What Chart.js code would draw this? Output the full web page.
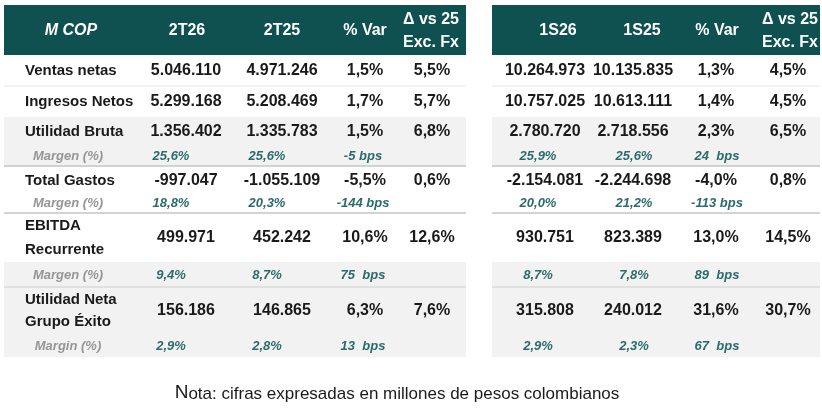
<!DOCTYPE html>
<html>
<head>
<meta charset="utf-8">
<script src="https://cdn.jsdelivr.net/npm/chart.js@4.4.1/dist/chart.umd.min.js"></script>
<style>
  html, body { margin: 0; padding: 0; background: #ffffff; }
  #wrap { width: 822px; height: 415px; }
</style>
</head>
<body>
<div id="wrap"><canvas id="table" width="822" height="415"></canvas></div>
<script>
// table content
const rowLabels = [
  'Ventas netas', 'Ingresos Netos', 'Utilidad Bruta', 'Margen (%)', 'Total Gastos',
  'Margen (%)', ['EBITDA', 'Recurrente'], 'Margen (%)', ['Utilidad Neta', 'Grupo Éxito'], 'Margin (%)'
];
const cornerLabel = 'M COP';
const quarterHeaders = ['2T26', '2T25', '% Var', ['Δ vs 25', 'Exc. Fx']];
const semesterHeaders = ['1S26', '1S25', '% Var', ['Δ vs 25', 'Exc. Fx']];

const q2T26 = ['5.046.110', '5.299.168', '1.356.402', '25,6%', '-997.047', '18,8%', '499.971', '9,4%', '156.186', '2,9%'];
const q2T25 = ['4.971.246', '5.208.469', '1.335.783', '25,6%', '-1.055.109', '20,3%', '452.242', '8,7%', '146.865', '2,8%'];
const qVar = ['1,5%', '1,7%', '1,5%', '-5 bps', '-5,5%', '-144 bps', '10,6%', '75  bps', '6,3%', '13  bps'];
const qExFx = ['5,5%', '5,7%', '6,8%', '', '0,6%', '', '12,6%', '', '7,6%', ''];

const s1S26 = ['10.264.973', '10.757.025', '2.780.720', '25,9%', '-2.154.081', '20,0%', '930.751', '8,7%', '315.808', '2,9%'];
const s1S25 = ['10.135.835', '10.613.111', '2.718.556', '25,6%', '-2.244.698', '21,2%', '823.389', '7,8%', '240.012', '2,3%'];
const sVar = ['1,3%', '1,4%', '2,3%', '24  bps', '-4,0%', '-113 bps', '13,0%', '89  bps', '31,6%', '67  bps'];
const sExFx = ['4,5%', '4,5%', '6,5%', '', '0,8%', '', '14,5%', '', '30,7%', ''];

const noteText = 'Nota: cifras expresadas en millones de pesos colombianos';

// layout (scale units, 1 unit = 1 px)
const panels = [
  { x0: 4, x1: 466, headX: [187, 282, 365, 431], valX: [186, 282, 365, 432], marX: [171, 267, 363],
    headers: quarterHeaders, cols: [q2T26, q2T25, qVar, qExFx], labels: true },
  { x0: 492, x1: 820, headX: [558, 642, 717, 790], valX: [545, 633, 716, 788], marX: [538, 634, 717],
    headers: semesterHeaders, cols: [s1S26, s1S25, sVar, sExFx], labels: false }
];
const headTop = 5;
const headBottom = 55;
const rows = [
  { top: 55, bottom: 86, y: 71, kind: 'main' },
  { top: 86, bottom: 117, y: 102, kind: 'main' },
  { top: 117, bottom: 145, y: 132, kind: 'main', shade: true },
  { top: 145, bottom: 166, y: 156, kind: 'margin', shade: true },
  { top: 166, bottom: 193, y: 181, kind: 'main' },
  { top: 193, bottom: 213, y: 203, kind: 'margin' },
  { top: 213, bottom: 262, y: 238, kind: 'main', gap: 12 },
  { top: 262, bottom: 287, y: 275, kind: 'margin', shade: true },
  { top: 287, bottom: 334, y: 311, kind: 'main', gap: 11, shade: true },
  { top: 334, bottom: 357, y: 346, kind: 'margin', shade: true }
];
const rules = [
  { y: 86, color: '#eeeeee' },
  { y: 166, color: '#c4c4c4' },
  { y: 213, color: '#c4c4c4' },
  { y: 287, color: '#dadada' }
];

const HEAD_BG = '#0f5150';
const SHADE_BG = '#f2f2f2';
const TEXT = '#1a1a1a';
const MARGIN_LABEL = '#959595';
const MARGIN_VALUE = '#2c6b6b';
const FAMILY = "'Liberation Sans', Arial, sans-serif";

const tablePlugin = {
  id: 'tableCells',
  afterDraw(chart) {
    const { ctx } = chart;
    const xs = chart.scales.x;
    const ys = chart.scales.y;
    const px = (v) => xs.getPixelForValue(v);
    const py = (v) => ys.getPixelForValue(v);

    ctx.save();
    ctx.textBaseline = 'middle';

    panels.forEach((p) => {
      const left = px(p.x0);
      const w = px(p.x1) - left;

      // header band
      ctx.fillStyle = HEAD_BG;
      ctx.fillRect(left, py(headTop), w, py(headBottom) - py(headTop));

      // shaded rows
      rows.forEach((r) => {
        if (!r.shade) return;
        ctx.fillStyle = SHADE_BG;
        ctx.fillRect(left, py(r.top), w, py(r.bottom) - py(r.top));
      });

      // row rules
      rules.forEach((rl) => {
        ctx.strokeStyle = rl.color;
        ctx.lineWidth = 1.5;
        ctx.beginPath();
        ctx.moveTo(left, py(rl.y));
        ctx.lineTo(left + w, py(rl.y));
        ctx.stroke();
      });

      // header text
      ctx.fillStyle = '#ffffff';
      ctx.textAlign = 'center';
      ctx.font = 'bold 16px ' + FAMILY;
      p.headers.forEach((h, i) => {
        if (Array.isArray(h)) {
          ctx.fillText(h[0], px(p.headX[i]), py(20));
          ctx.fillText(h[1], px(p.headX[i]), py(43));
        } else {
          ctx.fillText(h, px(p.headX[i]), py(31));
        }
      });
      if (p.labels) {
        ctx.font = 'italic bold 16px ' + FAMILY;
        ctx.fillText(cornerLabel, px(71), py(31));
      }

      // body
      rows.forEach((r, ri) => {
        if (r.kind === 'main') {
          if (p.labels) {
            ctx.textAlign = 'left';
            ctx.fillStyle = TEXT;
            ctx.font = 'bold 15px ' + FAMILY;
            const lab = rowLabels[ri];
            if (Array.isArray(lab)) {
              ctx.fillText(lab[0], px(25), py(r.y - r.gap));
              ctx.fillText(lab[1], px(25), py(r.y + r.gap));
            } else {
              ctx.fillText(lab, px(25), py(r.y));
            }
          }
          ctx.textAlign = 'center';
          ctx.fillStyle = TEXT;
          ctx.font = 'bold 16px ' + FAMILY;
          p.cols.forEach((col, ci) => {
            if (col[ri]) ctx.fillText(col[ri], px(p.valX[ci]), py(r.y));
          });
        } else {
          ctx.textAlign = 'center';
          if (p.labels) {
            ctx.fillStyle = MARGIN_LABEL;
            ctx.font = 'italic bold 13px ' + FAMILY;
            ctx.fillText(rowLabels[ri], px(68), py(r.y));
          }
          ctx.fillStyle = MARGIN_VALUE;
          ctx.font = 'italic bold 13px ' + FAMILY;
          p.marX.forEach((mx, ci) => {
            const v = p.cols[ci][ri];
            if (v) ctx.fillText(v, px(mx), py(r.y));
          });
        }
      });
    });

    // footnote
    ctx.fillStyle = TEXT;
    ctx.textAlign = 'left';
    ctx.font = '19px ' + FAMILY;
    const nW = ctx.measureText(noteText[0]).width;
    ctx.font = '17px ' + FAMILY;
    const restW = ctx.measureText(noteText.slice(1)).width;
    const startX = px(397) - (nW + restW) / 2;
    ctx.font = '19px ' + FAMILY;
    ctx.fillText(noteText[0], startX, py(393));
    ctx.font = '17px ' + FAMILY;
    ctx.fillText(noteText.slice(1), startX + nW, py(394));

    ctx.restore();
  }
};

document.addEventListener('DOMContentLoaded', () => {
  const canvas = document.getElementById('table');
  new Chart(canvas, {
    type: 'scatter',
    data: { datasets: [] },
    options: {
      responsive: false,
      animation: false,
      events: [],
      layout: { padding: 0 },
      plugins: {
        legend: { display: false },
        tooltip: { enabled: false }
      },
      scales: {
        x: { type: 'linear', min: 0, max: 822, display: false },
        y: { type: 'linear', min: 0, max: 415, reverse: true, display: false }
      }
    },
    plugins: [tablePlugin]
  });
});
</script>
</body>
</html>
